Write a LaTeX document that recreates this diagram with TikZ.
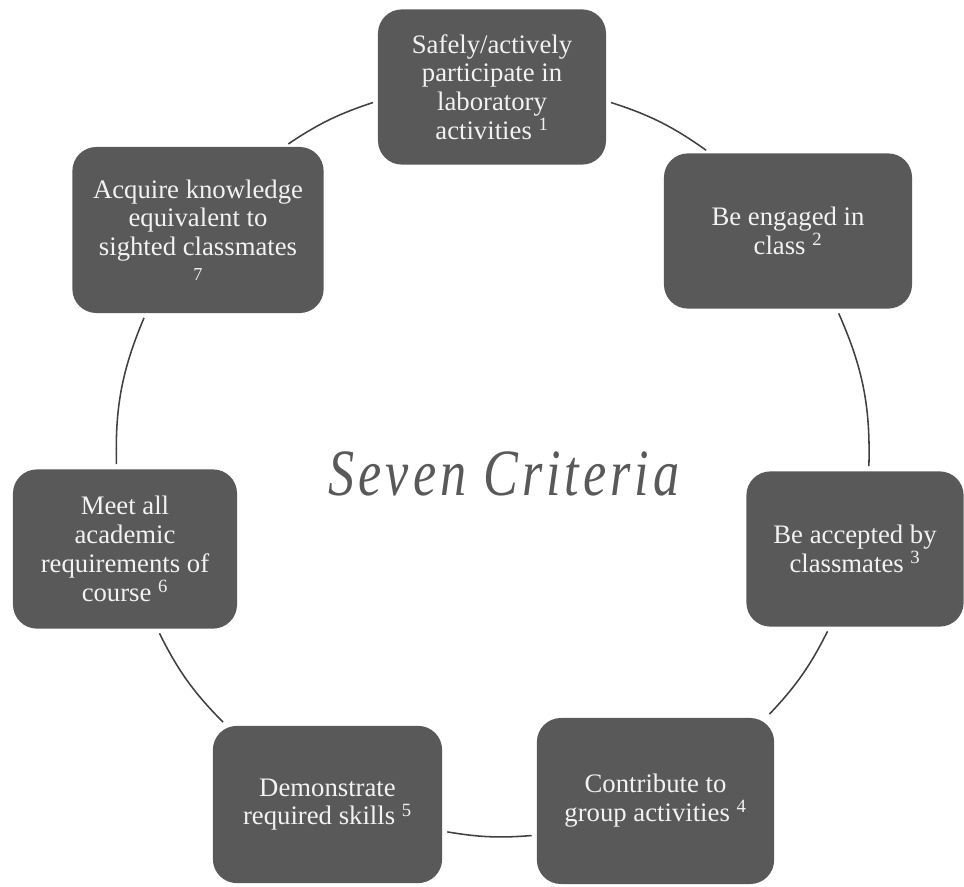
\documentclass[tikz,border=0pt]{standalone}
\usepackage{fontspec}
\setmainfont{Liberation Serif}
\newfontfamily\critfont[FakeStretch=0.79,LetterSpace=6]{Liberation Serif}
\usetikzlibrary{positioning}
\definecolor{cbox}{HTML}{595959}
\definecolor{ctext}{HTML}{F2F2F2}
\definecolor{cline}{HTML}{404040}
\tikzset{
  every picture/.style={x=0.025cm, y=-0.025cm},
  crit/.style={fill=cbox, rounded corners=0.6cm, align=center, text=ctext,
    font=\fontsize{19}{20.5}\selectfont, inner sep=4pt, minimum height=3.88cm},
  link/.style={draw=cline, line width=1.1pt, shorten <=3.5pt, shorten >=3.5pt},
  title/.style={font=\fontsize{47}{50}\critfont\itshape, text=cbox},
}

\begin{document}
\begin{tikzpicture}
  \useasboundingbox (0,0) rectangle (964,886);
  % seven criteria round the circle, clockwise from the top
  \node[crit, minimum width=5.7cm] (b1) at (492,87)
    {Safely/actively\\participate in\\laboratory\\activities \textsuperscript{1}};
  \node[crit, minimum width=6.2cm] (b2) at (788,231) {Be engaged in\\class \textsuperscript{2}};
  \node[crit, minimum width=5.43cm] (b3) at (855,549) {Be accepted by\\classmates \textsuperscript{3}};
  \node[crit, minimum width=5.93cm, minimum height=4.15cm] (b4) at (655.5,801)
    {Contribute to\\group activities \textsuperscript{4}};
  \node[crit, minimum width=5.73cm, minimum height=3.93cm] (b5) at (327.5,804.5)
    {Demonstrate\\required skills \textsuperscript{5}};
  \node[crit, minimum width=5.6cm, minimum height=3.98cm] (b6) at (125,549)
    {Meet all\\academic\\requirements of\\course \textsuperscript{6}};
  \node[crit, minimum width=6.28cm, minimum height=4.15cm] (b7) at (198,230)
    {Acquire knowledge\\equivalent to\\sighted classmates\\[-3pt]{\fontsize{13}{14}\selectfont 7}};
  \node[title] (crit) at (504,474) {Seven Criteria};
  % arcs of the cycle, border points where the ring meets each box
  \draw[link] (b1.-7.35) to[bend left=8.9] (b2.135.3);
  \draw[link] (b2.-58.2) to[bend left=12.75] (b3.80.6);
  \draw[link] (b3.-108.5) to[bend left=8.5] (b4.37);
  \draw[link] (b4.-164.75) to[bend left=7.25] (b5.-13.8);
  \draw[link] (b5.142.2) to[bend left=9.2] (b6.-68.8);
  \draw[link] (b6.96.4) to[bend left=12.2] (b7.-122.1);
  \draw[link] (b7.44.1) to[bend left=8] (b1.187.35);
\end{tikzpicture}
\end{document}
